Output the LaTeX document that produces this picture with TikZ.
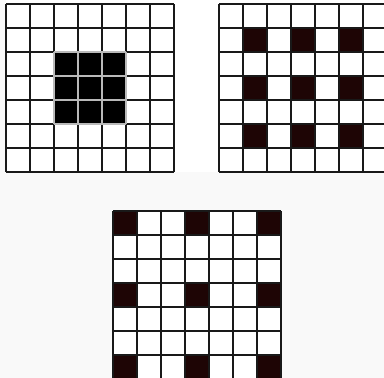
\documentclass[tikz,border=0pt]{standalone}
\definecolor{pixdark}{HTML}{1E0505}
\definecolor{bggray}{HTML}{F9F9F9}
\begin{document}
\begin{tikzpicture}[x=1pt, y=-1pt,
    gridline/.style={draw=black!90, line width=1.1pt},
    blockline/.style={draw=gray!55, line width=1.1pt},
    blackcell/.style={fill=black},
    darkcell/.style={fill=pixdark}
  ]
  \useasboundingbox (0,0) rectangle (384,378);
  \fill[bggray] (0,0) rectangle (384,378);
  \fill[white] (6,0) rectangle (384,172);
  % solid 3x3 block
  \begin{scope}[shift={(6,4)}]
    \foreach \i in {2,3,4}
      \foreach \j in {2,3,4}
        \fill[blackcell] (24*\i,24*\j) rectangle ++(24,24);
    \foreach \k in {0,...,7} {
      \draw[gridline] (24*\k,0) -- ++(0,168);
      \draw[gridline] (0,24*\k) -- ++(168,0);
    }
    \foreach \k in {2,...,5} {
      \draw[blockline] (24*\k,48) -- ++(0,72);
      \draw[blockline] (48,24*\k) -- ++(72,0);
    }
  \end{scope}
  % dilated by 2
  \begin{scope}[shift={(219,4)}]
    \foreach \i in {1,3,5}
      \foreach \j in {1,3,5}
        \fill[darkcell] (24*\i,24*\j) rectangle ++(24,24);
    \foreach \k in {0,...,7} {
      \draw[gridline] (24*\k,0) -- ++(0,168);
      \draw[gridline] (0,24*\k) -- ++(168,0);
    }
  \end{scope}
  % dilated by 3
  \begin{scope}[shift={(113,211)}]
    \fill[white] (0,0) rectangle (168,168);
    \foreach \i in {0,3,6}
      \foreach \j in {0,3,6}
        \fill[darkcell] (24*\i,24*\j) rectangle ++(24,24);
    \foreach \k in {0,...,7} {
      \draw[gridline] (24*\k,0) -- ++(0,168);
      \draw[gridline] (0,24*\k) -- ++(168,0);
    }
  \end{scope}
\end{tikzpicture}
\end{document}
